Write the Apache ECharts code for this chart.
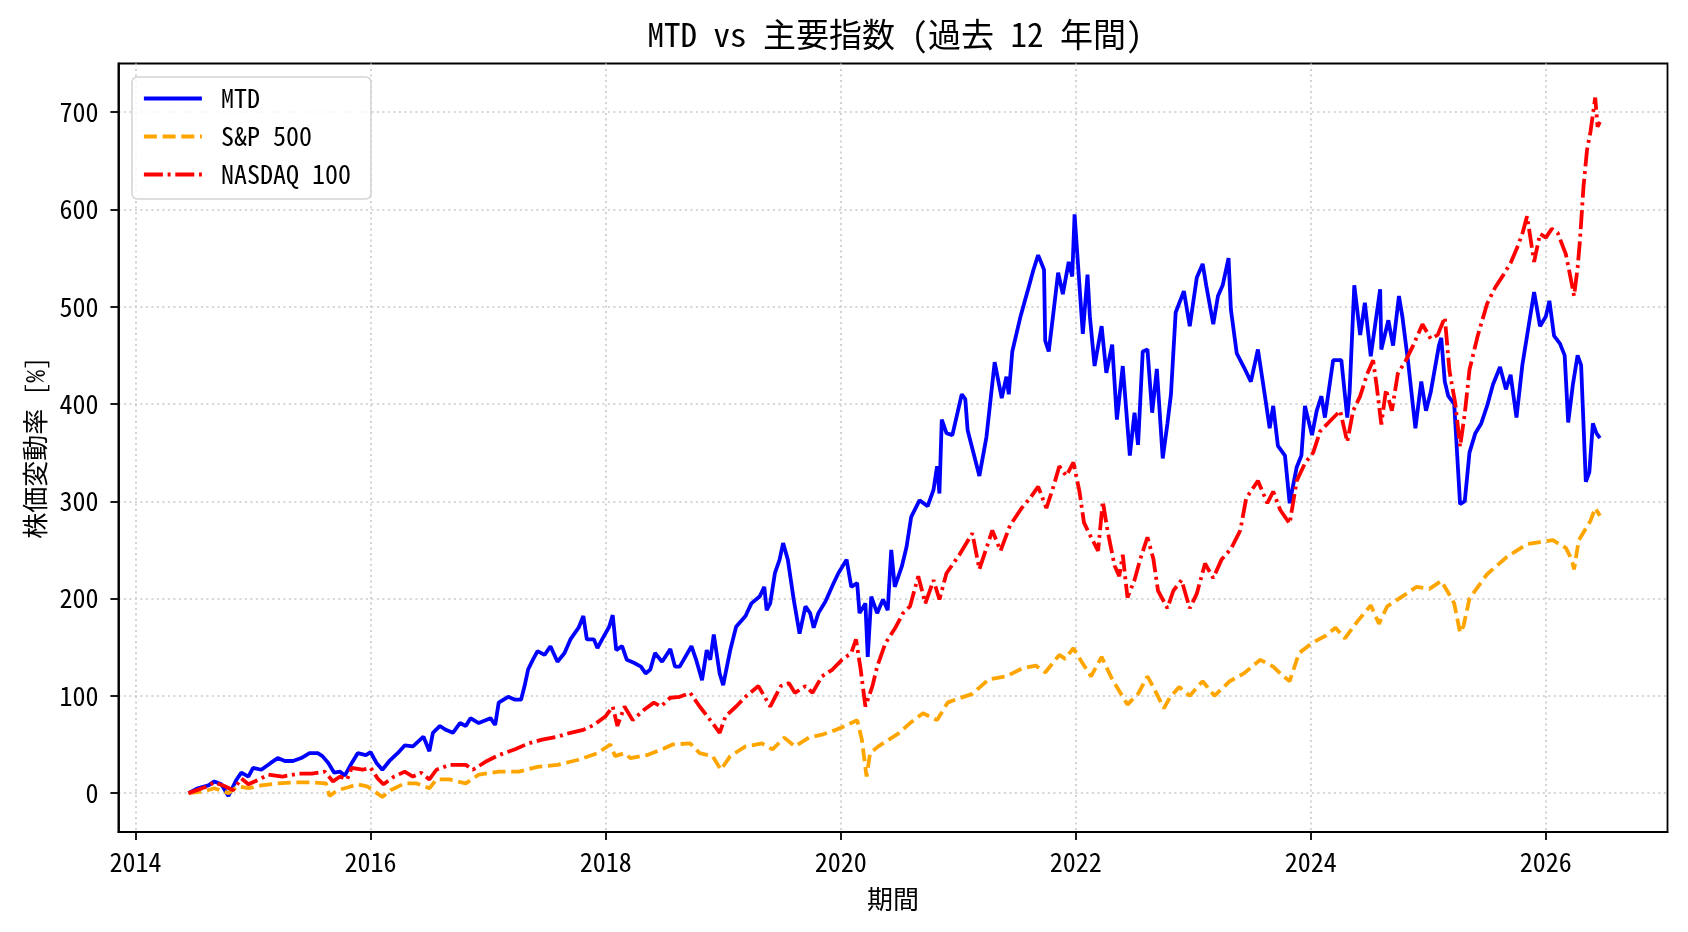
<!DOCTYPE html>
<html><head><meta charset="utf-8">
<script src="https://cdn.jsdelivr.net/npm/echarts@6/dist/echarts.min.js"></script>
<style>html,body{margin:0;padding:0;background:#fff}#c{width:1688px;height:932px}</style>
</head><body><div id="c"></div><script>
const FONT = "'Noto Sans Mono CJK JP','Noto Sans CJK JP',sans-serif";
const titleText = 'MTD vs 主要指数 (過去 12 年間)';
const xAxisName = '期間';
const yAxisName = '株価変動率 [%]';
const seriesNames = ['MTD', 'S&P 500', 'NASDAQ 100'];
const xTicks = [2014, 2016, 2018, 2020, 2022, 2024, 2026];
const yTicks = [0, 100, 200, 300, 400, 500, 600, 700];

// [decimal year, % change]
const mtd = [
[2014.45,0],[2014.53,5],[2014.62,8],[2014.67,12],[2014.73,9],[2014.79,-3],[2014.86,14],[2014.90,21],[2014.96,17],
[2015.00,26],[2015.07,24],[2015.15,31],[2015.21,36],[2015.27,33],[2015.34,33],[2015.41,36],[2015.48,41],[2015.55,41],
[2015.59,38],[2015.64,31],[2015.69,21],[2015.74,22],[2015.78,18],[2015.84,31],[2015.89,41],[2015.96,39],[2016.00,42],
[2016.05,31],[2016.10,24],[2016.16,33],[2016.23,41],[2016.29,49],[2016.36,48],[2016.45,58],[2016.50,43],[2016.53,62],
[2016.59,69],[2016.64,65],[2016.70,62],[2016.76,72],[2016.81,69],[2016.85,77],[2016.92,72],[2017.02,77],[2017.06,70],
[2017.09,93],[2017.17,99],[2017.23,96],[2017.28,96],[2017.31,110],[2017.34,127],[2017.38,137],[2017.42,146],[2017.48,142],
[2017.53,151],[2017.59,135],[2017.65,144],[2017.70,158],[2017.77,170],[2017.81,182],[2017.84,158],[2017.90,158],[2017.93,149],
[2017.97,158],[2018.03,171],[2018.06,183],[2018.09,147],[2018.14,151],[2018.18,137],[2018.24,134],[2018.30,130],[2018.34,123],
[2018.38,127],[2018.42,144],[2018.48,135],[2018.55,148],[2018.59,130],[2018.63,130],[2018.73,151],[2018.77,137],[2018.82,116],
[2018.86,147],[2018.89,137],[2018.92,163],[2018.97,123],[2019.00,111],[2019.06,147],[2019.11,171],[2019.19,182],[2019.24,195],
[2019.31,202],[2019.35,212],[2019.37,188],[2019.40,195],[2019.44,226],[2019.48,240],[2019.51,257],[2019.55,240],[2019.60,199],
[2019.65,164],[2019.70,192],[2019.74,185],[2019.77,170],[2019.81,185],[2019.87,197],[2019.94,216],[2019.98,226],[2020.05,240],
[2020.09,212],[2020.14,216],[2020.16,185],[2020.21,195],[2020.23,140],[2020.26,202],[2020.31,185],[2020.36,199],[2020.40,188],
[2020.43,250],[2020.46,212],[2020.52,233],[2020.56,253],[2020.60,284],[2020.67,301],[2020.74,295],[2020.79,312],[2020.82,336],
[2020.84,308],[2020.86,384],[2020.90,370],[2020.95,368],[2021.03,410],[2021.06,405],[2021.08,373],[2021.18,326],[2021.24,366],
[2021.31,443],[2021.37,406],[2021.41,428],[2021.43,410],[2021.46,454],[2021.53,490],[2021.59,516],[2021.64,538],[2021.68,553],
[2021.73,538],[2021.74,465],[2021.77,454],[2021.81,494],[2021.85,535],[2021.89,513],[2021.94,546],[2021.97,531],[2021.99,595],
[2022.02,542],[2022.06,472],[2022.10,533],[2022.12,490],[2022.16,439],[2022.22,480],[2022.26,432],[2022.31,461],[2022.35,384],
[2022.40,439],[2022.46,347],[2022.50,391],[2022.53,358],[2022.57,454],[2022.61,456],[2022.65,391],[2022.69,436],[2022.74,344],
[2022.78,380],[2022.81,410],[2022.85,494],[2022.92,516],[2022.97,480],[2023.03,530],[2023.08,544],[2023.11,522],[2023.17,482],
[2023.21,511],[2023.25,522],[2023.30,550],[2023.32,497],[2023.37,452],[2023.43,438],[2023.49,423],[2023.55,456],[2023.61,408],
[2023.65,375],[2023.68,398],[2023.72,357],[2023.78,347],[2023.82,298],[2023.88,335],[2023.92,347],[2023.95,398],[2024.01,368],
[2024.05,393],[2024.09,408],[2024.12,386],[2024.19,445],[2024.26,445],[2024.31,386],[2024.33,412],[2024.37,522],[2024.42,471],
[2024.46,504],[2024.51,449],[2024.59,518],[2024.60,456],[2024.66,486],[2024.70,460],[2024.75,511],[2024.78,489],[2024.83,441],
[2024.86,408],[2024.89,375],[2024.94,423],[2024.98,393],[2025.02,412],[2025.09,460],[2025.11,468],[2025.14,423],[2025.17,408],
[2025.22,400],[2025.27,297],[2025.31,300],[2025.35,350],[2025.40,370],[2025.45,380],[2025.50,398],[2025.55,420],[2025.61,438],
[2025.66,415],[2025.70,430],[2025.75,386],[2025.80,440],[2025.86,485],[2025.90,515],[2025.95,480],[2026.00,490],[2026.03,506],
[2026.07,470],[2026.12,462],[2026.16,450],[2026.19,381],[2026.23,420],[2026.27,450],[2026.30,440],[2026.34,320],[2026.37,330],
[2026.40,380],[2026.43,370],[2026.46,365]
];

const sp500 = [
[2014.45,0],[2014.59,2],[2014.67,5],[2014.79,0],[2014.87,7],[2014.96,5],[2015.07,8],[2015.21,10],[2015.35,11],[2015.50,11],
[2015.62,10],[2015.65,-3],[2015.72,3],[2015.81,6],[2015.89,9],[2015.97,7],[2016.03,2],[2016.10,-4],[2016.17,3],[2016.29,10],
[2016.39,10],[2016.50,5],[2016.56,14],[2016.67,14],[2016.81,10],[2016.92,19],[2017.09,22],[2017.26,22],[2017.42,27],[2017.59,29],
[2017.76,34],[2017.93,41],[2018.04,50],[2018.08,38],[2018.16,41],[2018.21,36],[2018.35,39],[2018.50,46],[2018.57,50],[2018.72,51],
[2018.80,41],[2018.91,38],[2018.98,24],[2019.06,38],[2019.19,48],[2019.33,51],[2019.42,45],[2019.52,57],[2019.61,48],[2019.73,57],
[2019.84,60],[2019.96,65],[2020.09,72],[2020.14,75],[2020.18,55],[2020.22,17],[2020.25,41],[2020.32,48],[2020.41,55],[2020.50,62],
[2020.59,72],[2020.70,82],[2020.82,75],[2020.91,93],[2020.95,95],[2021.12,102],[2021.26,117],[2021.41,120],[2021.54,128],[2021.66,131],
[2021.74,124],[2021.86,142],[2021.91,138],[2021.98,149],[2022.05,135],[2022.13,120],[2022.22,140],[2022.31,117],[2022.37,105],[2022.44,91],
[2022.53,102],[2022.61,120],[2022.66,109],[2022.75,87],[2022.80,98],[2022.88,109],[2022.97,100],[2023.08,115],[2023.18,100],[2023.31,115],
[2023.43,123],[2023.57,137],[2023.68,130],[2023.74,123],[2023.82,115],[2023.90,144],[2024.02,155],[2024.13,162],[2024.21,170],[2024.29,159],
[2024.40,177],[2024.51,193],[2024.58,174],[2024.65,192],[2024.79,203],[2024.90,212],[2025.01,210],[2025.11,218],[2025.16,208],[2025.22,195],
[2025.27,165],[2025.30,172],[2025.35,200],[2025.50,225],[2025.67,243],[2025.84,256],[2025.95,258],[2026.06,260],[2026.17,252],[2026.22,240],
[2026.24,230],[2026.28,260],[2026.33,270],[2026.38,280],[2026.42,293],[2026.46,285]
];

const nasdaq = [
[2014.45,0],[2014.59,6],[2014.67,11],[2014.76,7],[2014.83,3],[2014.90,15],[2014.96,9],[2015.05,14],[2015.13,19],[2015.25,17],
[2015.39,20],[2015.50,20],[2015.61,22],[2015.68,12],[2015.74,17],[2015.80,14],[2015.84,26],[2015.93,24],[2016.00,26],[2016.06,15],
[2016.11,9],[2016.20,17],[2016.29,22],[2016.36,17],[2016.43,21],[2016.50,14],[2016.56,24],[2016.67,29],[2016.81,29],[2016.87,24],
[2016.99,33],[2017.09,39],[2017.23,45],[2017.34,51],[2017.46,55],[2017.59,58],[2017.70,62],[2017.81,65],[2017.90,70],[2018.00,79],
[2018.06,89],[2018.10,69],[2018.16,89],[2018.23,75],[2018.33,86],[2018.41,93],[2018.47,89],[2018.55,98],[2018.63,99],[2018.72,103],
[2018.80,89],[2018.89,75],[2018.97,62],[2019.02,79],[2019.11,89],[2019.19,99],[2019.30,110],[2019.40,89],[2019.49,110],[2019.56,113],
[2019.61,103],[2019.70,110],[2019.76,103],[2019.84,120],[2019.93,127],[2020.01,137],[2020.09,144],[2020.13,158],[2020.17,127],[2020.21,89],
[2020.27,110],[2020.31,130],[2020.38,154],[2020.47,171],[2020.53,185],[2020.59,192],[2020.66,223],[2020.72,195],[2020.79,219],[2020.84,199],
[2020.90,226],[2021.01,245],[2021.12,267],[2021.18,230],[2021.29,270],[2021.36,249],[2021.44,275],[2021.54,293],[2021.61,303],[2021.68,315],
[2021.75,293],[2021.81,315],[2021.86,336],[2021.92,326],[2021.98,340],[2022.03,311],[2022.07,278],[2022.13,263],[2022.19,249],[2022.23,300],
[2022.27,270],[2022.33,234],[2022.37,223],[2022.40,245],[2022.44,201],[2022.50,219],[2022.55,241],[2022.61,263],[2022.66,241],[2022.70,208],
[2022.78,190],[2022.83,208],[2022.90,219],[2022.97,190],[2023.03,205],[2023.10,236],[2023.17,221],[2023.24,240],[2023.32,251],[2023.40,270],
[2023.45,303],[2023.55,321],[2023.63,298],[2023.68,310],[2023.74,291],[2023.82,277],[2023.88,321],[2023.95,339],[2024.02,350],[2024.08,372],
[2024.16,382],[2024.25,393],[2024.31,361],[2024.36,393],[2024.42,408],[2024.48,431],[2024.53,445],[2024.56,419],[2024.60,379],[2024.64,415],
[2024.69,393],[2024.74,431],[2024.81,445],[2024.87,460],[2024.95,482],[2025.02,467],[2025.08,471],[2025.14,489],[2025.18,434],[2025.23,400],
[2025.27,356],[2025.31,390],[2025.35,435],[2025.42,470],[2025.50,503],[2025.57,520],[2025.64,533],[2025.70,545],[2025.75,559],[2025.80,575],
[2025.84,593],[2025.90,546],[2025.95,575],[2026.00,571],[2026.05,580],[2026.10,576],[2026.17,554],[2026.21,530],[2026.24,511],[2026.27,540],
[2026.29,568],[2026.32,623],[2026.35,661],[2026.38,680],[2026.42,715],[2026.44,685],[2026.46,690]
];

const chart = echarts.init(document.getElementById('c'), null, {renderer: 'canvas'});
const gridColor = '#c8c8c8';
const axisCommon = {
  axisLine: {show: true, onZero: false, lineStyle: {color: '#000', width: 1.8}},
  axisTick: {show: true, length: 8, lineStyle: {color: '#000', width: 1.8}},
  splitLine: {show: true, lineStyle: {color: gridColor, width: 1.6, type: [2, 3.5]}},
  nameTextStyle: {color: '#000', fontSize: 26, fontFamily: FONT},
};
const LW = 3.8;
chart.setOption({
  animation: false,
  backgroundColor: '#fff',
  textStyle: {fontFamily: FONT},
  title: {
    text: titleText, left: 890, top: 13, textAlign: 'center',
    textStyle: {fontSize: 33, fontWeight: 'normal', color: '#000', fontFamily: FONT}
  },
  grid: {left: 118.4, right: 20.5, top: 63.5, bottom: 100, show: true, borderColor: '#000', borderWidth: 1.8, containLabel: false},
  legend: {
    orient: 'vertical', left: 132, top: 77,
    padding: [8, 20, 11, 10], itemGap: 11, itemWidth: 58, itemHeight: 14,
    backgroundColor: 'rgba(255,255,255,0.8)', borderColor: '#d4d4d4', borderWidth: 1.6, borderRadius: 5,
    itemStyle: {opacity: 0},
    lineStyle: {width: LW},
    textStyle: {fontSize: 26, color: '#000', fontFamily: FONT, lineHeight: 27, padding: [0, 0, 0, 14]},
    data: seriesNames
  },
  xAxis: Object.assign({}, axisCommon, {
    type: 'value', min: 2013.854, max: 2027.035,
    name: xAxisName, nameLocation: 'middle', nameGap: 54,
    axisTick: Object.assign({}, axisCommon.axisTick, {customValues: xTicks}),
    axisLabel: {customValues: xTicks, color: '#000', fontSize: 26, fontFamily: FONT, margin: 17, formatter: v => String(Math.round(v))}
  }),
  yAxis: Object.assign({}, axisCommon, {
    type: 'value', min: -40, max: 750,
    name: yAxisName, nameLocation: 'middle', nameGap: 70, nameRotate: 90,
    axisTick: Object.assign({}, axisCommon.axisTick, {customValues: yTicks}),
    axisLabel: {customValues: yTicks, color: '#000', fontSize: 26, fontFamily: FONT, margin: 20}
  }),
  series: [
    {name: seriesNames[0], type: 'line', data: mtd, symbol: 'none', showSymbol: false, clip: true,
     lineStyle: {color: '#0000ff', width: LW}, itemStyle: {color: '#0000ff'}},
    {name: seriesNames[1], type: 'line', data: sp500, symbol: 'none', showSymbol: false, clip: true,
     lineStyle: {color: '#ffa500', width: LW, type: [13, 5.7]}, itemStyle: {color: '#ffa500'}},
    {name: seriesNames[2], type: 'line', data: nasdaq, symbol: 'none', showSymbol: false, clip: true,
     lineStyle: {color: '#ff0000', width: LW, type: [19, 4.7, 3, 4.7]}, itemStyle: {color: '#ff0000'}}
  ]
});
</script></body></html>
